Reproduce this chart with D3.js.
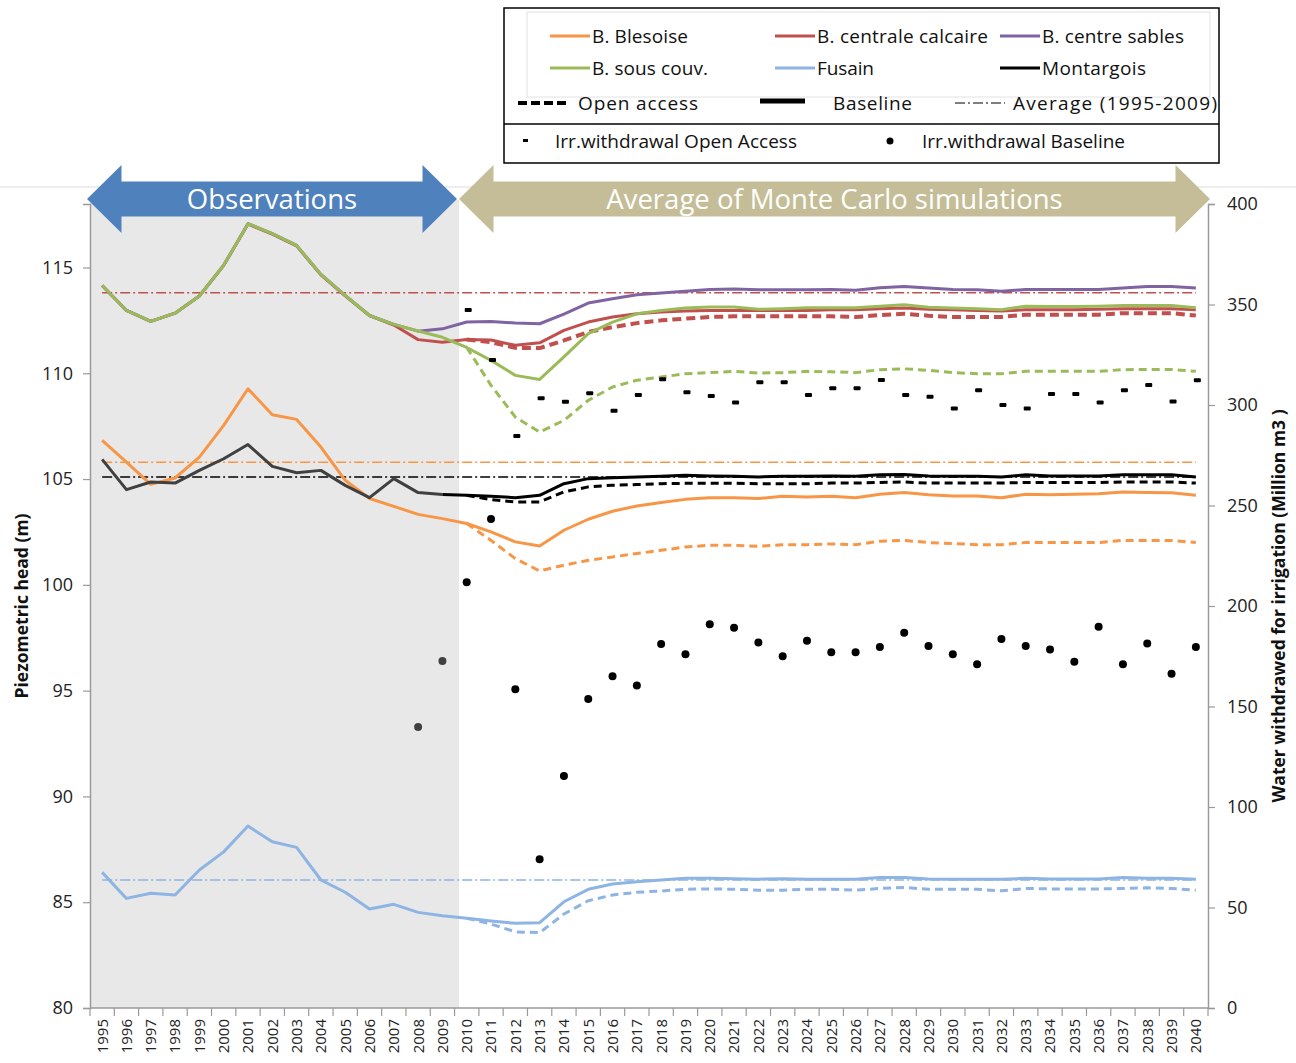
<!DOCTYPE html>
<html>
<head>
<meta charset="utf-8">
<script src="https://cdn.jsdelivr.net/npm/d3@7"></script>
<style>
  body { margin: 0; background: #fff; }
  text { font-family: "Open Sans", sans-serif; }
</style>
</head>
<body>
<script>
// categories
var years = [1995, 1996, 1997, 1998, 1999, 2000, 2001, 2002, 2003, 2004,
  2005, 2006, 2007, 2008, 2009, 2010, 2011, 2012, 2013, 2014,
  2015, 2016, 2017, 2018, 2019, 2020, 2021, 2022, 2023, 2024,
  2025, 2026, 2027, 2028, 2029, 2030, 2031, 2032, 2033, 2034,
  2035, 2036, 2037, 2038, 2039, 2040];
var oaYears = years.slice(15);          // 2010-2040
var irrBaseYears = years.slice(13);     // 2008-2040

// piezometric head, observations + baseline (1995-2040)
var blesoise = [106.83, 105.8, 104.75, 105.05, 106.04, 107.54, 109.27, 108.04, 107.82, 106.51,
  104.94, 104.08, 103.71, 103.33, 103.13, 102.9, 102.5, 102.03, 101.84, 102.58,
  103.1, 103.48, 103.73, 103.89, 104.04, 104.12, 104.12, 104.08, 104.19, 104.15,
  104.19, 104.12, 104.28, 104.36, 104.26, 104.2, 104.2, 104.12, 104.28, 104.26,
  104.28, 104.31, 104.39, 104.36, 104.35, 104.23];
var centraleCalcaire = [114.15, 112.97, 112.45, 112.84, 113.65, 115.1, 117.05, 116.58, 116.02, 114.65,
  113.66, 112.72, 112.28, 111.59, 111.47, 111.6, 111.57, 111.32, 111.44, 112.03,
  112.42, 112.66, 112.81, 112.89, 112.94, 112.97, 112.97, 112.97, 112.97, 112.97,
  113.0, 113.0, 113.05, 113.08, 113.02, 113.0, 112.97, 112.94, 113.0, 113.0,
  113.0, 113.02, 113.05, 113.05, 113.05, 113.0];
var centreSables = [114.15, 112.97, 112.45, 112.84, 113.65, 115.1, 117.07, 116.6, 116.04, 114.67,
  113.68, 112.73, 112.31, 111.99, 112.1, 112.42, 112.45, 112.37, 112.34, 112.8,
  113.32, 113.52, 113.71, 113.79, 113.88, 113.96, 113.98, 113.95, 113.95, 113.95,
  113.96, 113.92, 114.04, 114.1, 114.03, 113.96, 113.95, 113.88, 113.96, 113.96,
  113.96, 113.96, 114.03, 114.1, 114.1, 114.03];
var sousCouv = [114.15, 112.97, 112.45, 112.84, 113.65, 115.1, 117.07, 116.6, 116.04, 114.67,
  113.68, 112.73, 112.31, 112.0, 111.7, 111.22, 110.61, 109.9, 109.71, 110.77,
  111.87, 112.42, 112.81, 112.97, 113.08, 113.13, 113.13, 113.02, 113.05, 113.1,
  113.1, 113.1, 113.17, 113.24, 113.12, 113.08, 113.05, 113.0, 113.17, 113.15,
  113.15, 113.17, 113.2, 113.2, 113.2, 113.1];
var fusain = [86.41, 85.18, 85.42, 85.34, 86.52, 87.38, 88.6, 87.86, 87.59, 86.05,
  85.47, 84.68, 84.9, 84.52, 84.36, 84.24, 84.11, 84.0, 84.03, 85.02,
  85.61, 85.86, 85.97, 86.05, 86.13, 86.13, 86.11, 86.09, 86.11, 86.09,
  86.09, 86.09, 86.17, 86.17, 86.1, 86.09, 86.08, 86.08, 86.13, 86.1,
  86.1, 86.1, 86.17, 86.13, 86.13, 86.09];
var montargois = [105.93, 104.5, 104.86, 104.81, 105.41, 105.96, 106.63, 105.6, 105.3, 105.41,
  104.7, 104.12, 105.02, 104.36, 104.27, 104.23, 104.19, 104.12, 104.23, 104.78,
  105.02, 105.06, 105.1, 105.13, 105.18, 105.15, 105.13, 105.1, 105.13, 105.13,
  105.15, 105.13, 105.2, 105.21, 105.15, 105.13, 105.13, 105.1, 105.2, 105.15,
  105.15, 105.15, 105.2, 105.2, 105.2, 105.1];

// open access scenario (2010-2040)
var blesoiseOA = [102.9, 102.1, 101.24, 100.66, 100.93, 101.16, 101.32, 101.48, 101.63, 101.79,
  101.87, 101.87, 101.82, 101.9, 101.9, 101.93, 101.9, 102.06, 102.1, 102.0,
  101.95, 101.9, 101.9, 102.0, 102.0, 102.0, 102.0, 102.1, 102.1, 102.1, 102.0];
var centraleCalcaireOA = [111.6, 111.47, 111.2, 111.19, 111.55, 111.95, 112.18, 112.37, 112.5, 112.58,
  112.66, 112.69, 112.69, 112.69, 112.69, 112.69, 112.66, 112.75, 112.81, 112.72,
  112.66, 112.66, 112.66, 112.77, 112.77, 112.77, 112.77, 112.84, 112.84, 112.84, 112.73];
var sousCouvOA = [111.22, 109.43, 107.93, 107.22, 107.77, 108.72, 109.35, 109.67, 109.82, 109.98,
  110.03, 110.09, 110.01, 110.03, 110.09, 110.07, 110.03, 110.17, 110.21, 110.14,
  110.03, 109.98, 109.98, 110.09, 110.09, 110.09, 110.09, 110.17, 110.18, 110.18, 110.09];
var fusainOA = [84.24, 83.97, 83.6, 83.56, 84.44, 85.07, 85.34, 85.47, 85.53, 85.61,
  85.63, 85.61, 85.57, 85.57, 85.61, 85.61, 85.57, 85.65, 85.7, 85.61,
  85.61, 85.61, 85.54, 85.65, 85.63, 85.63, 85.63, 85.65, 85.68, 85.65, 85.57];
var montargoisOA = [104.23, 104.03, 103.92, 103.92, 104.39, 104.63, 104.71, 104.74, 104.78, 104.8,
  104.8, 104.8, 104.78, 104.78, 104.78, 104.81, 104.81, 104.84, 104.86, 104.81,
  104.81, 104.81, 104.81, 104.84, 104.84, 104.84, 104.84, 104.86, 104.86, 104.86, 104.81];

// 1995-2009 averages
var avgNames = ['centraleCalcaire', 'blesoise', 'montargois', 'fusain'];
var avgValues = [113.8, 105.8, 105.1, 86.05];

// irrigation withdrawals (Million m3)
var irrBaseline = [139.8, 172.6, 211.8, 243.3, 158.6, 74.0, 115.4, 153.7, 165.0, 160.4,
  181.1, 176.0, 190.9, 189.2, 181.9, 175.0, 182.7, 177.0, 177.0, 179.6,
  186.7, 180.1, 176.0, 171.0, 183.6, 180.1, 178.3, 172.3, 189.7, 171.0,
  181.4, 166.3, 179.6];
var irrOpenAccess = [347.3, 322.4, 284.6, 303.3, 301.6, 305.8, 297.2, 305.0, 312.8, 306.3,
  304.5, 301.3, 311.3, 311.3, 305.0, 308.3, 308.3, 312.4, 305.0, 304.1,
  298.2, 307.3, 300.0, 298.2, 305.5, 305.5, 301.3, 307.3, 310.0, 301.8, 312.3];

var leftTicks = [80, 85, 90, 95, 100, 105, 110, 115];
var rightTicks = [0, 50, 100, 150, 200, 250, 300, 350, 400];

var colors = {
  blesoise: '#F79646',
  centraleCalcaire: '#C0504D',
  centreSables: '#8064A2',
  sousCouv: '#9BBB59',
  fusain: '#8DB4E2',
  montargois: '#000000'
};
var obsGray = '#404040';

var W = 1296, H = 1063;
var svg = d3.select('body').append('svg')
  .attr('width', W)
  .attr('height', H);

var x = d3.scaleBand().domain(years).range([90, 1208]);
var y = d3.scaleLinear().domain([80, 118]).range([1008, 204]);
var y2 = d3.scaleLinear().domain([0, 400]).range([1008, 204]);
var cx = function(yr) { return x(yr) + x.bandwidth() / 2; };

// faint frame line above plot
svg.append('line')
  .attr('x1', 0).attr('x2', W).attr('y1', 187).attr('y2', 187)
  .attr('stroke', '#dcdcdc').attr('stroke-width', 1);

// observation shade
svg.append('rect')
  .attr('x', 90).attr('y', 200)
  .attr('width', 459 - 90).attr('height', 1008 - 200)
  .attr('fill', '#e8e8e8');

// axes
var axisColor = '#9a9a9a';
var gl = svg.append('g').attr('transform', 'translate(90,0)')
  .call(d3.axisLeft(y).tickValues(leftTicks).tickSize(7).tickPadding(10));
var gr = svg.append('g').attr('transform', 'translate(1208,0)')
  .call(d3.axisRight(y2).tickValues(rightTicks).tickSize(7).tickPadding(12));
[gl, gr].forEach(function(g) {
  g.select('.domain').attr('stroke', axisColor).attr('stroke-width', 1.5);
  g.selectAll('.tick line').attr('stroke', axisColor).attr('stroke-width', 1.2);
  g.selectAll('.tick text')
    .attr('font-family', 'Open Sans, sans-serif')
    .attr('font-size', 18)
    .attr('fill', '#222');
});

// x axis: baseline, boundary ticks, rotated labels
svg.append('line')
  .attr('x1', 90).attr('x2', 1208).attr('y1', 1008).attr('y2', 1008)
  .attr('stroke', axisColor).attr('stroke-width', 1.5);
svg.selectAll('.xtick')
  .data(years.concat([null]))
  .enter().append('line')
    .attr('class', 'xtick')
    .attr('x1', function(d) { return d === null ? 1208 : x(d); })
    .attr('x2', function(d) { return d === null ? 1208 : x(d); })
    .attr('y1', 1008).attr('y2', 1016)
    .attr('stroke', axisColor).attr('stroke-width', 1.2);
svg.selectAll('.xlabel')
  .data(years)
  .enter().append('text')
    .attr('class', 'xlabel')
    .attr('transform', function(d) { return 'translate(' + cx(d) + ',1019) rotate(-90)'; })
    .attr('text-anchor', 'end')
    .attr('dy', '0.36em')
    .attr('font-size', 15)
    .attr('fill', '#222')
    .text(function(d) { return d; });

// axis titles
svg.append('text')
  .attr('transform', 'translate(22,606) rotate(-90)')
  .attr('text-anchor', 'middle')
  .attr('dy', '0.35em')
  .attr('font-size', 17.5).attr('font-weight', 'bold')
  .attr('fill', '#111')
  .text('Piezometric head (m)');
svg.append('text')
  .attr('transform', 'translate(1279,606) rotate(-90)')
  .attr('text-anchor', 'middle')
  .attr('dy', '0.35em')
  .attr('font-size', 17.5).attr('font-weight', 'bold')
  .attr('fill', '#111')
  .text('Water withdrawed for irrigation (Million m3 )');

// average lines (dash-dot)
svg.selectAll('.avg')
  .data(avgNames)
  .enter().append('line')
    .attr('class', 'avg')
    .attr('x1', cx(1995)).attr('x2', cx(2040))
    .attr('y1', function(d, i) { return y(avgValues[i]); })
    .attr('y2', function(d, i) { return y(avgValues[i]); })
    .attr('stroke', function(d) { return colors[d]; })
    .attr('stroke-width', 1.5)
    .attr('stroke-dasharray', '10,3,2,3');

var line = d3.line()
  .x(function(d) { return cx(d[0]); })
  .y(function(d) { return y(d[1]); });

function drawSeries(xs, vals, color, width, dash) {
  svg.append('path')
    .datum(d3.zip(xs, vals))
    .attr('d', line)
    .attr('fill', 'none')
    .attr('stroke', color)
    .attr('stroke-width', width)
    .attr('stroke-linejoin', 'round')
    .attr('stroke-dasharray', dash || null);
}

drawSeries(oaYears, fusainOA, colors.fusain, 3, '8,5');
drawSeries(years, fusain, colors.fusain, 3);
drawSeries(oaYears, blesoiseOA, colors.blesoise, 3, '8,5');
drawSeries(years, blesoise, colors.blesoise, 3);
drawSeries(oaYears, montargoisOA, colors.montargois, 3, '8,5');
drawSeries(years.slice(0, 15), montargois.slice(0, 15), obsGray, 3);
drawSeries(years.slice(14), montargois.slice(14), colors.montargois, 3);
drawSeries(oaYears, centraleCalcaireOA, colors.centraleCalcaire, 4, '9,5');
drawSeries(years, centraleCalcaire, colors.centraleCalcaire, 3);
drawSeries(years, centreSables, colors.centreSables, 3);
drawSeries(oaYears, sousCouvOA, colors.sousCouv, 3, '8,5');
drawSeries(years, sousCouv, colors.sousCouv, 3);

// irrigation markers
svg.selectAll('.irrOA')
  .data(irrOpenAccess)
  .enter().append('rect')
    .attr('class', 'irrOA')
    .attr('x', function(d, i) { return cx(oaYears[i]) - 2; })
    .attr('y', function(d) { return y2(d) - 2; })
    .attr('width', 7).attr('height', 4)
    .attr('rx', 1)
    .attr('fill', '#000');
svg.selectAll('.irrBase')
  .data(irrBaseline)
  .enter().append('circle')
    .attr('class', 'irrBase')
    .attr('cx', function(d, i) { return cx(irrBaseYears[i]); })
    .attr('cy', function(d) { return y2(d); })
    .attr('r', 4)
    .attr('fill', function(d, i) { return irrBaseYears[i] < 2010 ? obsGray : '#000'; });

// period arrows
function arrowPath(x0, x1, yc, head, bodyHalf, headHalf) {
  return 'M' + x0 + ',' + yc +
    'L' + (x0 + head) + ',' + (yc - headHalf) +
    'L' + (x0 + head) + ',' + (yc - bodyHalf) +
    'L' + (x1 - head) + ',' + (yc - bodyHalf) +
    'L' + (x1 - head) + ',' + (yc - headHalf) +
    'L' + x1 + ',' + yc +
    'L' + (x1 - head) + ',' + (yc + headHalf) +
    'L' + (x1 - head) + ',' + (yc + bodyHalf) +
    'L' + (x0 + head) + ',' + (yc + bodyHalf) +
    'L' + (x0 + head) + ',' + (yc + headHalf) + 'Z';
}
var arrows = [
  { x0: 87, x1: 457, fill: '#4F81BD', label: 'Observations' },
  { x0: 459, x1: 1210, fill: '#C4BD97', label: 'Average of Monte Carlo simulations' }
];
arrows.forEach(function(a) {
  svg.append('path')
    .attr('d', arrowPath(a.x0, a.x1, 199, 34.5, 17.5, 34))
    .attr('fill', a.fill);
  svg.append('text')
    .attr('x', (a.x0 + a.x1) / 2).attr('y', 199)
    .attr('dy', '0.35em')
    .attr('text-anchor', 'middle')
    .attr('font-size', 27.5)
    .attr('fill', '#fff')
    .text(a.label);
});

// legend
var lg = svg.append('g');
lg.append('rect')
  .attr('x', 504).attr('y', 8).attr('width', 715).attr('height', 155)
  .attr('fill', '#fff').attr('stroke', '#000').attr('stroke-width', 1.5);
lg.append('rect')
  .attr('x', 527).attr('y', 12).attr('width', 683).attr('height', 85)
  .attr('fill', 'none').attr('stroke', '#e2e2e2').attr('stroke-width', 1);
lg.append('line')
  .attr('x1', 504).attr('x2', 1219).attr('y1', 124).attr('y2', 124)
  .attr('stroke', '#000').attr('stroke-width', 1.5);

function legendText(tx, ty, label, len) {
  lg.append('text')
    .attr('x', tx).attr('y', ty).attr('dy', '0.35em')
    .attr('font-size', 19).attr('fill', '#111')
    .attr('textLength', len)
    .text(label);
}

var legendSeries = [
  { key: 'blesoise', label: 'B. Blesoise', lx: 550, ly: 36, len: 96 },
  { key: 'centraleCalcaire', label: 'B. centrale calcaire', lx: 775, ly: 36, len: 171 },
  { key: 'centreSables', label: 'B. centre sables', lx: 1000, ly: 36, len: 142 },
  { key: 'sousCouv', label: 'B. sous couv.', lx: 550, ly: 68, len: 116 },
  { key: 'fusain', label: 'Fusain', lx: 775, ly: 68, len: 57 },
  { key: 'montargois', label: 'Montargois', lx: 1000, ly: 68, len: 104 }
];
legendSeries.forEach(function(s) {
  lg.append('line')
    .attr('x1', s.lx).attr('x2', s.lx + 40).attr('y1', s.ly).attr('y2', s.ly)
    .attr('stroke', colors[s.key]).attr('stroke-width', 3);
  legendText(s.lx + 42, s.ly, s.label, s.len);
});

// line style keys
lg.append('line')
  .attr('x1', 518).attr('x2', 566).attr('y1', 103).attr('y2', 103)
  .attr('stroke', '#000').attr('stroke-width', 4).attr('stroke-dasharray', '9,4');
legendText(578, 103, 'Open access', 120);
lg.append('line')
  .attr('x1', 760).attr('x2', 805).attr('y1', 101).attr('y2', 101)
  .attr('stroke', '#000').attr('stroke-width', 5);
legendText(833, 103, 'Baseline', 79);
lg.append('line')
  .attr('x1', 955).attr('x2', 1005).attr('y1', 103).attr('y2', 103)
  .attr('stroke', '#000').attr('stroke-width', 1.2).attr('stroke-dasharray', '10,3,2,3');
legendText(1013, 103, 'Average (1995-2009)', 204);

// irrigation marker keys
lg.append('rect')
  .attr('x', 523).attr('y', 139).attr('width', 5).attr('height', 3)
  .attr('fill', '#000');
legendText(555, 141, 'Irr.withdrawal Open Access', 242);
lg.append('circle')
  .attr('cx', 890).attr('cy', 141).attr('r', 3.5).attr('fill', '#000');
legendText(922, 141, 'Irr.withdrawal Baseline', 203);
</script>
</body>
</html>
